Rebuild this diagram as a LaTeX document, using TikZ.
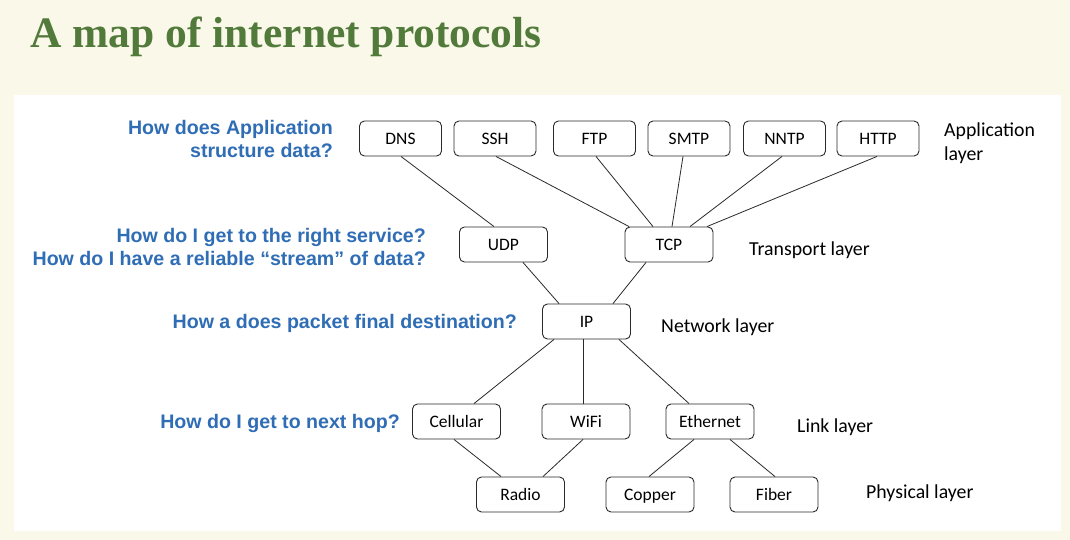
\documentclass[tikz,border=0pt]{standalone}
\usepackage{fontspec}
\setmainfont{Liberation Serif}
\newfontfamily\qfont{Liberation Sans}
\newfontfamily\lfont{Carlito}
\definecolor{cream}{HTML}{FAF8E8}
\definecolor{titlegreen}{HTML}{517A3B}
\definecolor{qblue}{HTML}{2F6DB5}
\definecolor{boxline}{HTML}{2A2A2A}
\begin{document}
\begin{tikzpicture}[x=1pt,y=-1pt,
  proto/.style={draw=boxline, line width=0.9pt, rounded corners=5pt,
    minimum width=88pt, minimum height=35pt, inner sep=0pt,
    text height=11.5pt, text depth=0pt,
    font=\lfont\fontsize{17.5}{17.5}\selectfont},
  appproto/.style={proto, minimum width=82pt},
  question/.style={anchor=base east, text=qblue, inner sep=0pt,
    font=\qfont\bfseries\fontsize{19.6}{19.6}\selectfont},
  layerlbl/.style={anchor=base west, inner sep=0pt,
    font=\lfont\fontsize{19.8}{19.8}\selectfont},
  link/.style={draw=boxline, line width=0.8pt}]

% page and panel
\fill[cream] (0,0) rectangle (1070,540);
\useasboundingbox (0,0) rectangle (1070,540);
\fill[white] (14,95) rectangle (1061,531);

% title
\node[anchor=base west, inner sep=0pt, text=titlegreen,
  font=\bfseries\fontsize{43.5}{43.5}\selectfont] (title) at (30,48)
  {A map of internet protocols};

% application layer
\node[appproto] (dns)  at (400.5,138.5) {DNS};
\node[appproto] (ssh)  at (495,138.5)   {SSH};
\node[appproto] (ftp)  at (594.5,138.5) {FTP};
\node[appproto] (smtp) at (689,138.5)   {SMTP};
\node[appproto] (nntp) at (784.5,138.5) {NNTP};
\node[appproto] (http) at (878,138.5)   {HTTP};

% transport layer
\node[proto] (udp) at (503.5,244.5) {UDP};
\node[proto] (tcp) at (669,244.5)   {TCP};

% network layer
\node[proto] (ip) at (586.5,321.5) {IP};

% link layer
\node[proto] (cell) at (456.5,421.5) {Cellular};
\node[proto] (wifi) at (586,421.5)   {WiFi};
\node[proto] (eth)  at (710,421.5)   {Ethernet};

% physical layer
\node[proto] (radio)  at (520.5,494.5) {Radio};
\node[proto] (copper) at (650,494.5)   {Copper};
\node[proto] (fiber)  at (774,494.5)   {Fiber};

% connections
\draw[link] ([xshift=0.5pt]dns.south)  -- ([xshift=-9.5pt]udp.north);
\draw[link] ([xshift=1pt]ssh.south)    -- ([xshift=-40pt]tcp.north);
\draw[link] ([xshift=1.5pt]ftp.south)  -- ([xshift=-16pt]tcp.north);
\draw[link] ([xshift=-6pt]smtp.south)  -- ([xshift=3pt]tcp.north);
\draw[link] ([xshift=-2.5pt]nntp.south) -- ([xshift=21pt]tcp.north);
\draw[link] ([xshift=-1pt]http.south)  -- ([xshift=38pt]tcp.north);
\draw[link] ([xshift=19.5pt]udp.south) -- ([xshift=-27.5pt]ip.north);
\draw[link] ([xshift=-23pt]tcp.south)  -- ([xshift=26.5pt]ip.north);
\draw[link] ([xshift=-32.5pt]ip.south) -- ([xshift=17.5pt]cell.north);
\draw[link] ([xshift=-3.5pt]ip.south)  -- ([xshift=-3pt]wifi.north);
\draw[link] ([xshift=32.5pt]ip.south)  -- ([xshift=-21pt]eth.north);
\draw[link] ([xshift=-2.5pt]cell.south) -- ([xshift=-19.5pt]radio.north);
\draw[link] ([xshift=-3pt]wifi.south)  -- ([xshift=22.5pt]radio.north);
\draw[link] ([xshift=-16pt]eth.south)  -- ([xshift=-1pt]copper.north);
\draw[link] ([xshift=20pt]eth.south)   -- ([xshift=1pt]fiber.north);

% questions
\node[question] (q1a) at (333,135) {How does Application};
\node[question] (q1b) at (333,158) {structure data?};
\node[question] (q2a) at (426,242) {How do I get to the right service?};
\node[question] (q2b) at (426,265) {How do I have a reliable “stream” of data?};
\node[question] (q3)  at (517,328) {How a does packet final destination?};
\node[question] (q4)  at (400,428) {How do I get to next hop?};

% layer names
\node[layerlbl] (l1a) at (944,137) {Application};
\node[layerlbl] (l1b) at (944,161) {layer};
\node[layerlbl] (l2)  at (749,255) {Transport layer};
\node[layerlbl] (l3)  at (661,332) {Network layer};
\node[layerlbl] (l4)  at (797,432) {Link layer};
\node[layerlbl] (l5)  at (866,498) {Physical layer};
\end{tikzpicture}
\end{document}
